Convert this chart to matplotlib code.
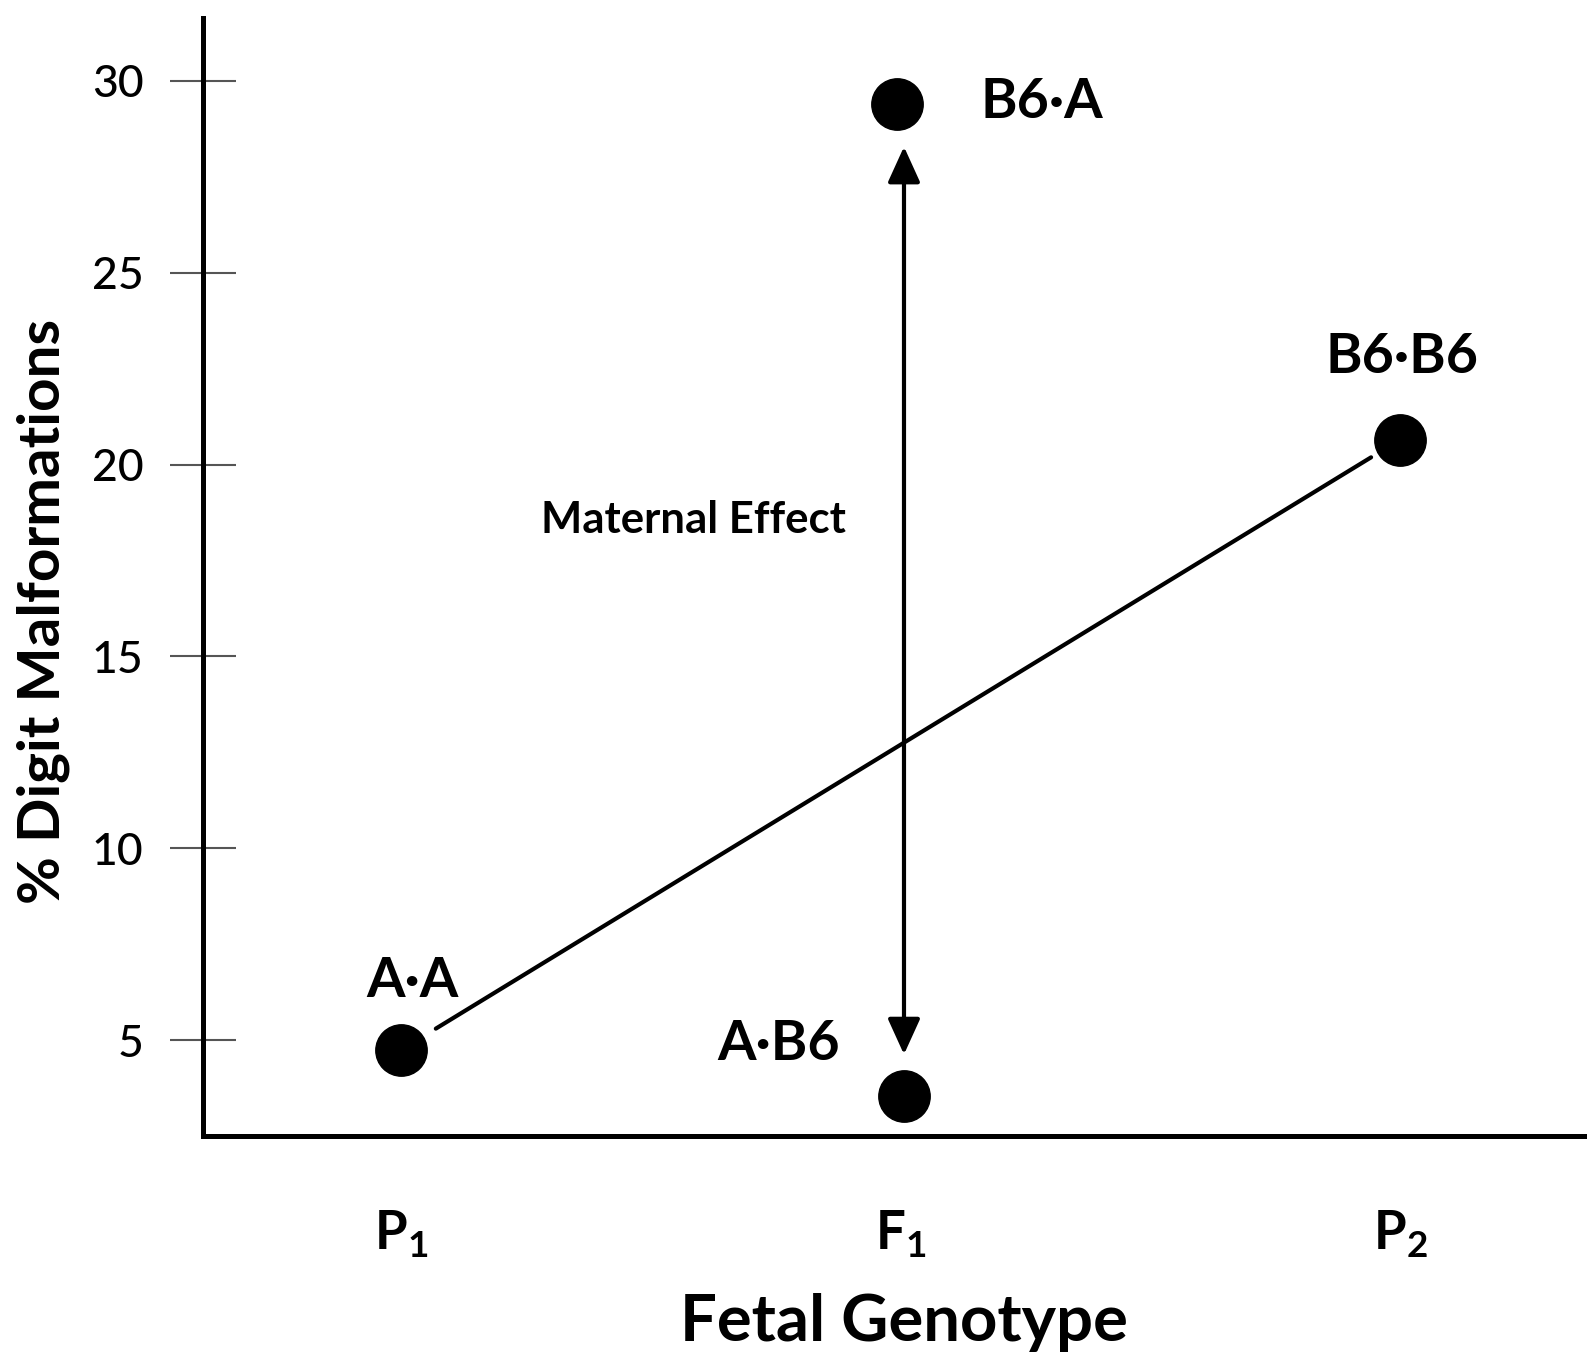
import matplotlib
matplotlib.use("Agg")
import matplotlib.pyplot as plt
from matplotlib.patches import ArrowStyle

# Chart values
genotypes = ["A·A", "B6·A", "A·B6", "B6·B6"]
genotype_x = [1.0, 1.993, 2.007, 3.0]
malformation_pct = [4.75, 29.4, 3.55, 20.65]

tick_positions = [1, 2, 3]
tick_labels = [r"$\mathbf{P}_{\mathbf{1}}$", r"$\mathbf{F}_{\mathbf{1}}$", r"$\mathbf{P}_{\mathbf{2}}$"]
y_ticks = [5, 10, 15, 20, 25, 30]

plt.rcParams["font.family"] = ["Lato", "DejaVu Sans"]
plt.rcParams["mathtext.fontset"] = "custom"
plt.rcParams["mathtext.rm"] = "Lato"
plt.rcParams["mathtext.bf"] = "Lato:bold"

fig = plt.figure(figsize=(15.87, 13.6), dpi=100)
ax = fig.add_axes([0.1276, 0.165, 0.8724, 0.822])

ax.set_xlim(0.603, 3.374)
ax.set_ylim(2.52, 31.64)

# points
ax.plot(genotype_x, malformation_pct, "o", color="black", markersize=37, linestyle="none", zorder=3)

# line joining the two parental strains, stopping short of the dots
ax.annotate("", xy=(genotype_x[3], malformation_pct[3]), xytext=(genotype_x[0], malformation_pct[0]),
            arrowprops=dict(arrowstyle="-", color="black", lw=3, shrinkA=29.5, shrinkB=24.5))

# double arrow showing the maternal effect between the two F1 crosses
arrow_x = genotype_x[2]
ax.annotate("", xy=(arrow_x, malformation_pct[1]), xytext=(arrow_x, malformation_pct[2]),
            arrowprops=dict(arrowstyle=ArrowStyle("<|-|>", head_length=22, head_width=10),
                            mutation_scale=1, color="black", lw=3, shrinkA=30, shrinkB=31))

# point labels
label_offsets = {"A·A": (8, 38, "center"), "B6·A": (60, -10, "left"),
                 "A·B6": (-90, 26, "center"), "B6·B6": (1, 48, "center")}
for name, gx, val in zip(genotypes, genotype_x, malformation_pct):
    dx, dy, ha = label_offsets[name]
    ax.annotate(name, xy=(gx, val), xytext=(dx, dy), textcoords="offset points",
                ha=ha, va="baseline", fontsize=40, fontweight="bold")

ax.text(1.585, 18.22, "Maternal Effect", ha="center", va="baseline", fontsize=31.5, fontweight="bold")

# axes styling
for side in ["top", "right"]:
    ax.spines[side].set_visible(False)
for side in ["left", "bottom"]:
    ax.spines[side].set_linewidth(3.6)
    ax.spines[side].set_color("black")

ax.set_yticks(y_ticks)
ax.set_yticklabels([str(v) for v in y_ticks], fontweight="medium")
ax.tick_params(axis="y", direction="inout", length=47, width=1.5, color="#555555",
               pad=19, labelsize=32)
ax.set_xticks(tick_positions)
ax.set_xticklabels(tick_labels)
ax.tick_params(axis="x", length=0, pad=52, labelsize=38)

ax.set_xlabel("Fetal Genotype", fontsize=47, fontweight="bold")
ax.xaxis.set_label_coords(0.5067, -0.1838)
ax.xaxis.label.set_verticalalignment("baseline")

ax.set_ylabel("% Digit Malformations", fontsize=42, fontweight="bold")
ax.yaxis.set_label_coords(-0.1152, 0.469)
ax.yaxis.label.set_verticalalignment("center")

fig.savefig("out.png", dpi=100)
